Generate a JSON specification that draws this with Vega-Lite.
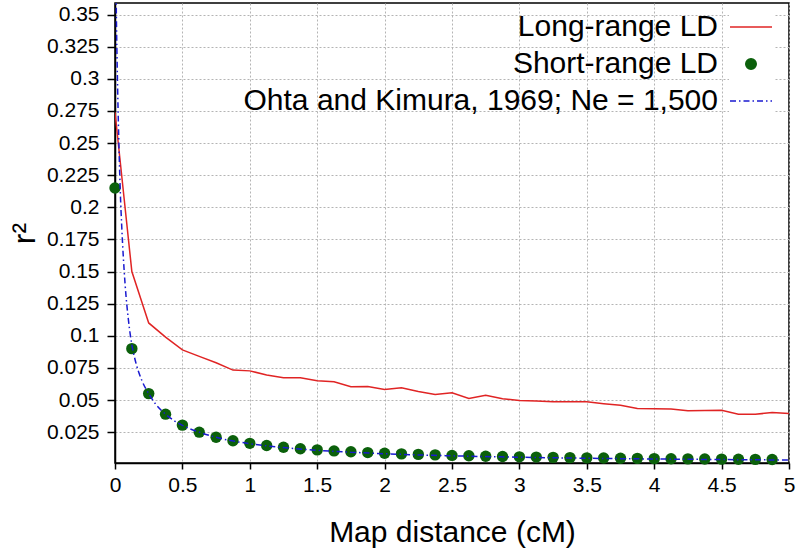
{
  "$schema": "https://vega.github.io/schema/vega-lite/v6.json",
  "width": 674,
  "height": 460,
  "autosize": {"type": "none"},
  "padding": {"left": 115, "top": 3, "right": 7, "bottom": 93},
  "background": "white",
  "config": {
    "font": "Liberation Sans",
    "view": {"stroke": "black", "strokeWidth": 1.5},
    "axis": {
      "domainColor": "black", "domainWidth": 1.5,
      "tickColor": "black", "tickWidth": 1.5,
      "labelColor": "black", "titleColor": "black",
      "labelFont": "Liberation Sans", "titleFont": "Liberation Sans",
      "labelFontSize": 21, "titleFontSize": 30, "titleFontWeight": "normal",
      "gridColor": "#b4b4b4", "gridDash": [2, 2], "gridWidth": 1
    }
  },
  "data": {"values": [
    {"series": "Long-range LD", "x": 0, "y": 0.274},
    {"series": "Long-range LD", "x": 0.125, "y": 0.150},
    {"series": "Long-range LD", "x": 0.25, "y": 0.110},
    {"series": "Long-range LD", "x": 0.375, "y": 0.099},
    {"series": "Long-range LD", "x": 0.5, "y": 0.089},
    {"series": "Long-range LD", "x": 0.625, "y": 0.084},
    {"series": "Long-range LD", "x": 0.75, "y": 0.079},
    {"series": "Long-range LD", "x": 0.875, "y": 0.0733},
    {"series": "Long-range LD", "x": 1.0, "y": 0.0727},
    {"series": "Long-range LD", "x": 1.125, "y": 0.0695},
    {"series": "Long-range LD", "x": 1.25, "y": 0.0673},
    {"series": "Long-range LD", "x": 1.375, "y": 0.0673},
    {"series": "Long-range LD", "x": 1.5, "y": 0.065},
    {"series": "Long-range LD", "x": 1.625, "y": 0.0642},
    {"series": "Long-range LD", "x": 1.75, "y": 0.0603},
    {"series": "Long-range LD", "x": 1.875, "y": 0.0606},
    {"series": "Long-range LD", "x": 2.0, "y": 0.0583},
    {"series": "Long-range LD", "x": 2.125, "y": 0.0595},
    {"series": "Long-range LD", "x": 2.25, "y": 0.0567},
    {"series": "Long-range LD", "x": 2.375, "y": 0.0544},
    {"series": "Long-range LD", "x": 2.5, "y": 0.0556},
    {"series": "Long-range LD", "x": 2.625, "y": 0.0512},
    {"series": "Long-range LD", "x": 2.75, "y": 0.0538},
    {"series": "Long-range LD", "x": 2.875, "y": 0.051},
    {"series": "Long-range LD", "x": 3.0, "y": 0.0497},
    {"series": "Long-range LD", "x": 3.125, "y": 0.0492},
    {"series": "Long-range LD", "x": 3.25, "y": 0.0486},
    {"series": "Long-range LD", "x": 3.375, "y": 0.0486},
    {"series": "Long-range LD", "x": 3.5, "y": 0.0486},
    {"series": "Long-range LD", "x": 3.625, "y": 0.0472},
    {"series": "Long-range LD", "x": 3.75, "y": 0.046},
    {"series": "Long-range LD", "x": 3.875, "y": 0.0435},
    {"series": "Long-range LD", "x": 4.0, "y": 0.0433},
    {"series": "Long-range LD", "x": 4.125, "y": 0.043},
    {"series": "Long-range LD", "x": 4.25, "y": 0.0416},
    {"series": "Long-range LD", "x": 4.375, "y": 0.0418},
    {"series": "Long-range LD", "x": 4.5, "y": 0.042},
    {"series": "Long-range LD", "x": 4.625, "y": 0.0389},
    {"series": "Long-range LD", "x": 4.75, "y": 0.0389},
    {"series": "Long-range LD", "x": 4.875, "y": 0.0403},
    {"series": "Long-range LD", "x": 5.0, "y": 0.0396},

    {"series": "Short-range LD", "x": 0, "y": 0.215},
    {"series": "Short-range LD", "x": 0.125, "y": 0.090},
    {"series": "Short-range LD", "x": 0.25, "y": 0.055},
    {"series": "Short-range LD", "x": 0.375, "y": 0.039},
    {"series": "Short-range LD", "x": 0.5, "y": 0.0305},
    {"series": "Short-range LD", "x": 0.625, "y": 0.025},
    {"series": "Short-range LD", "x": 0.75, "y": 0.021},
    {"series": "Short-range LD", "x": 0.875, "y": 0.0183},
    {"series": "Short-range LD", "x": 1.0, "y": 0.0163},
    {"series": "Short-range LD", "x": 1.125, "y": 0.0146},
    {"series": "Short-range LD", "x": 1.25, "y": 0.0133},
    {"series": "Short-range LD", "x": 1.375, "y": 0.0121},
    {"series": "Short-range LD", "x": 1.5, "y": 0.0112},
    {"series": "Short-range LD", "x": 1.625, "y": 0.0104},
    {"series": "Short-range LD", "x": 1.75, "y": 0.0097},
    {"series": "Short-range LD", "x": 1.875, "y": 0.0091},
    {"series": "Short-range LD", "x": 2.0, "y": 0.0086},
    {"series": "Short-range LD", "x": 2.125, "y": 0.0081},
    {"series": "Short-range LD", "x": 2.25, "y": 0.0077},
    {"series": "Short-range LD", "x": 2.375, "y": 0.0073},
    {"series": "Short-range LD", "x": 2.5, "y": 0.0069},
    {"series": "Short-range LD", "x": 2.625, "y": 0.0066},
    {"series": "Short-range LD", "x": 2.75, "y": 0.0063},
    {"series": "Short-range LD", "x": 2.875, "y": 0.0061},
    {"series": "Short-range LD", "x": 3.0, "y": 0.0058},
    {"series": "Short-range LD", "x": 3.125, "y": 0.0056},
    {"series": "Short-range LD", "x": 3.25, "y": 0.0054},
    {"series": "Short-range LD", "x": 3.375, "y": 0.0052},
    {"series": "Short-range LD", "x": 3.5, "y": 0.0050},
    {"series": "Short-range LD", "x": 3.625, "y": 0.0049},
    {"series": "Short-range LD", "x": 3.75, "y": 0.0047},
    {"series": "Short-range LD", "x": 3.875, "y": 0.0046},
    {"series": "Short-range LD", "x": 4.0, "y": 0.0044},
    {"series": "Short-range LD", "x": 4.125, "y": 0.0043},
    {"series": "Short-range LD", "x": 4.25, "y": 0.0042},
    {"series": "Short-range LD", "x": 4.375, "y": 0.0041},
    {"series": "Short-range LD", "x": 4.5, "y": 0.0040},
    {"series": "Short-range LD", "x": 4.625, "y": 0.0039},
    {"series": "Short-range LD", "x": 4.75, "y": 0.0038},
    {"series": "Short-range LD", "x": 4.875, "y": 0.0037},

    {"series": "Ohta and Kimura, 1969; Ne = 1,500", "x": 0, "y": 0.45},
    {"series": "Ohta and Kimura, 1969; Ne = 1,500", "x": 0.01, "y": 0.351},
    {"series": "Ohta and Kimura, 1969; Ne = 1,500", "x": 0.02, "y": 0.29},
    {"series": "Ohta and Kimura, 1969; Ne = 1,500", "x": 0.03, "y": 0.245},
    {"series": "Ohta and Kimura, 1969; Ne = 1,500", "x": 0.04, "y": 0.21},
    {"series": "Ohta and Kimura, 1969; Ne = 1,500", "x": 0.05, "y": 0.185},
    {"series": "Ohta and Kimura, 1969; Ne = 1,500", "x": 0.075, "y": 0.14},
    {"series": "Ohta and Kimura, 1969; Ne = 1,500", "x": 0.1, "y": 0.112},
    {"series": "Ohta and Kimura, 1969; Ne = 1,500", "x": 0.125, "y": 0.093},
    {"series": "Ohta and Kimura, 1969; Ne = 1,500", "x": 0.15, "y": 0.081},
    {"series": "Ohta and Kimura, 1969; Ne = 1,500", "x": 0.2, "y": 0.065},
    {"series": "Ohta and Kimura, 1969; Ne = 1,500", "x": 0.25, "y": 0.055},
    {"series": "Ohta and Kimura, 1969; Ne = 1,500", "x": 0.3, "y": 0.047},
    {"series": "Ohta and Kimura, 1969; Ne = 1,500", "x": 0.375, "y": 0.039},
    {"series": "Ohta and Kimura, 1969; Ne = 1,500", "x": 0.5, "y": 0.0303},
    {"series": "Ohta and Kimura, 1969; Ne = 1,500", "x": 0.625, "y": 0.025},
    {"series": "Ohta and Kimura, 1969; Ne = 1,500", "x": 0.75, "y": 0.021},
    {"series": "Ohta and Kimura, 1969; Ne = 1,500", "x": 1.0, "y": 0.016},
    {"series": "Ohta and Kimura, 1969; Ne = 1,500", "x": 1.25, "y": 0.013},
    {"series": "Ohta and Kimura, 1969; Ne = 1,500", "x": 1.5, "y": 0.0109},
    {"series": "Ohta and Kimura, 1969; Ne = 1,500", "x": 1.75, "y": 0.0094},
    {"series": "Ohta and Kimura, 1969; Ne = 1,500", "x": 2.0, "y": 0.0082},
    {"series": "Ohta and Kimura, 1969; Ne = 1,500", "x": 2.5, "y": 0.0066},
    {"series": "Ohta and Kimura, 1969; Ne = 1,500", "x": 3.0, "y": 0.0055},
    {"series": "Ohta and Kimura, 1969; Ne = 1,500", "x": 3.5, "y": 0.0047},
    {"series": "Ohta and Kimura, 1969; Ne = 1,500", "x": 4.0, "y": 0.0041},
    {"series": "Ohta and Kimura, 1969; Ne = 1,500", "x": 4.5, "y": 0.0037},
    {"series": "Ohta and Kimura, 1969; Ne = 1,500", "x": 5.0, "y": 0.0033}
  ]},
  "encoding": {
    "x": {
      "field": "x", "type": "quantitative",
      "scale": {"domain": [0, 5], "nice": false, "zero": false},
      "axis": {
        "title": "Map distance (cM)", "values": [0, 0.5, 1, 1.5, 2, 2.5, 3, 3.5, 4, 4.5, 5],
        "format": ".1~f", "tickSize": 6, "labelPadding": 5, "titlePadding": 22,
        "labelFontSize": 21, "titleFontSize": 30,
        "labelFlush": false, "labelOverlap": false
      }
    },
    "y": {
      "field": "y", "type": "quantitative",
      "scale": {"domain": [0.001, 0.359], "nice": false, "zero": false},
      "axis": {
        "title": "r²", "values": [0.025, 0.05, 0.075, 0.1, 0.125, 0.15, 0.175, 0.2, 0.225, 0.25, 0.275, 0.3, 0.325, 0.35],
        "format": ".3~f", "tickSize": 8, "labelPadding": 8, "titlePadding": 5,
        "labelFontSize": 21, "titleFontSize": 32,
        "labelFlush": false, "labelOverlap": false
      }
    },
    "color": {
      "field": "series", "type": "nominal",
      "scale": {
        "domain": ["Long-range LD", "Short-range LD", "Ohta and Kimura, 1969; Ne = 1,500"],
        "range": ["#e02424", "#0b600b", "#1a1ad0"]
      },
      "legend": {
        "title": null,
        "orient": "none",
        "legendX": 614,
        "legendY": 2,
        "padding": 0,
        "fillColor": "white",
        "labelFont": "Liberation Sans",
        "labelFontSize": 30,
        "labelColor": "black",
        "labelAlign": "right",
        "labelOffset": -55,
        "labelLimit": 800,
        "symbolSize": 1764,
        "symbolStrokeWidth": 1.5,
        "rowPadding": 0,
        "encode": {
          "symbols": {
            "update": {
              "shape": {"signal": "datum.value === 'Short-range LD' ? 'circle' : 'stroke'"},
              "size": {"signal": "datum.value === 'Short-range LD' ? 110 : 1764"},
              "fill": {"signal": "datum.value === 'Short-range LD' ? '#0b600b' : 'transparent'"},
              "stroke": {"signal": "datum.value === 'Short-range LD' ? null : (datum.value === 'Long-range LD' ? '#e02424' : '#1a1ad0')"},
              "strokeDash": {"signal": "datum.value === 'Long-range LD' || datum.value === 'Short-range LD' ? [] : [6, 3, 1.5, 3]"},
              "opacity": {"value": 1}
            }
          }
        }
      }
    }
  },
  "layer": [
    {
      "transform": [{"filter": "datum.series === 'Long-range LD'"}],
      "mark": {"type": "line", "strokeWidth": 1.5, "clip": true}
    },
    {
      "transform": [{"filter": "datum.series === 'Short-range LD'"}],
      "mark": {"type": "point", "filled": true, "size": 130, "opacity": 1}
    },
    {
      "transform": [{"filter": "datum.series === 'Ohta and Kimura, 1969; Ne = 1,500'"}],
      "mark": {"type": "line", "strokeWidth": 1.5, "strokeDash": [6, 3, 1.5, 3], "clip": true, "interpolate": "monotone"}
    }
  ]
}
